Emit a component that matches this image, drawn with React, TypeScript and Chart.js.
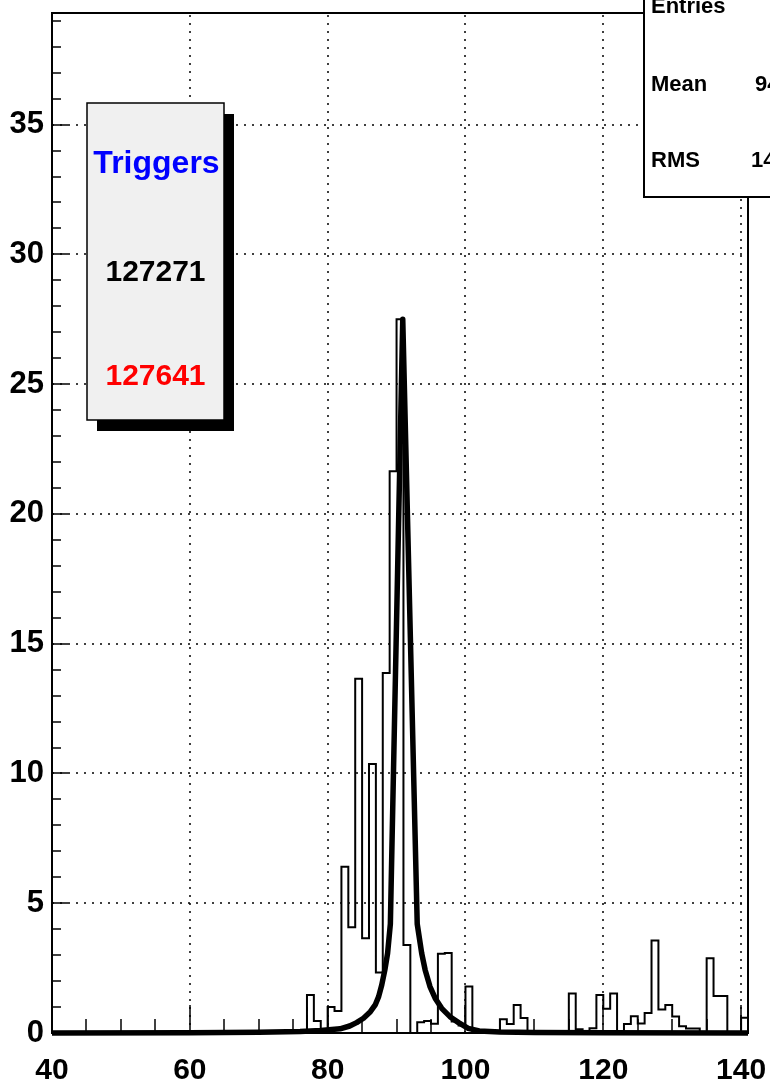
import React, { useEffect, useRef } from "react";
import { Chart, registerables } from "chart.js";

Chart.register(...registerables);

// Histogram: bins of width 1 starting at 40 (40..141)
const binStart = 40;
const binWidth = 1;
const counts = [
  0, 0, 0, 0, 0, 0, 0, 0, 0, 0, // 40-49
  0, 0, 0, 0, 0, 0, 0, 0, 0, 0, // 50-59
  0, 0, 0, 0, 0, 0, 0, 0, 0, 0, // 60-69
  0, 0, 0, 0, 0, 0, 0, 1.46, 0.46, 0, // 70-79
  1.0, 0.85, 6.41, 4.07, 13.65, 3.65, 10.36, 2.33, 13.87, 21.64, // 80-89
  27.5, 3.39, 0, 0.41, 0.46, 0.36, 3.05, 3.08, 0.44, 0.29, // 90-99
  1.79, 0, 0, 0, 0, 0.53, 0.35, 1.08, 0.58, 0, // 100-109
  0, 0, 0, 0, 0, 1.52, 0.14, 0, 0.18, 1.46, // 110-119
  0.93, 1.52, 0, 0.35, 0.65, 0.37, 0.77, 3.56, 0.91, 1.08, // 120-129
  0.64, 0.26, 0.17, 0.17, 0, 2.88, 1.43, 1.43, 0, 0, // 130-139
  0.59, // 140
];

// Fit curve, vertices
const fitX = [
  40, 60, 70, 76, 79, 81.8, 83.2, 84.2, 85.2, 86.2, 86.9, 87.4, 87.85, 88.3, 88.7, 89.1,
  90.9,
  93.0, 93.65, 94.15, 94.85, 95.6, 96.55, 97.75, 99.0, 100.4, 102, 105, 110, 120, 141,
];
const fitY = [
  0, 0.01, 0.03, 0.06, 0.1, 0.16, 0.27, 0.4, 0.57, 0.82, 1.08, 1.4, 1.85, 2.43, 3.07, 4.2,
  27.5,
  4.2, 3.07, 2.43, 1.79, 1.34, 0.95, 0.63, 0.4, 0.18, 0.08, 0.04, 0.02, 0.01, 0,
];

const xTickValues = [40, 60, 80, 100, 120, 140];
const yTickValues = [0, 5, 10, 15, 20, 25, 30, 35];

const triggerTitle = "Triggers";
const triggerValues = ["127271", "127641"];
const triggerColors = ["#000000", "#ff0000"];
const statsLabels = ["Entries", "Mean", "RMS"];
const statsValues = ["", "94", "14"];

const FONT = "'Liberation Sans', Arial, Helvetica, sans-serif";

const zeroPadding = (s: any) => {
  s.paddingLeft = 0;
  s.paddingRight = 0;
  s.paddingTop = 0;
  s.paddingBottom = 0;
};

export default function App() {
  const ref = useRef<HTMLCanvasElement>(null);

  useEffect(() => {
    const canvas = ref.current!;
    const histPoints = counts.map((c, i) => ({ x: binStart + i * binWidth, y: c }));
    histPoints.push({
      x: binStart + counts.length * binWidth,
      y: counts[counts.length - 1],
    });
    const fitPoints = fitX.map((x, i) => ({ x, y: fitY[i] }));

    const rootPlugin = {
      id: "rootFrame",
      beforeDatasetsDraw(chart: any) {
        const { ctx, chartArea: a, scales } = chart;
        const sx = scales.x;
        const sy = scales.y;
        ctx.save();
        ctx.strokeStyle = "#000";
        ctx.lineWidth = 1.5;
        ctx.setLineDash([2, 6]);
        xTickValues.forEach((v) => {
          if (v <= sx.min) return;
          const px = Math.round(sx.getPixelForValue(v));
          ctx.beginPath();
          ctx.moveTo(px, a.bottom);
          ctx.lineTo(px, a.top);
          ctx.stroke();
        });
        yTickValues.forEach((v) => {
          if (v <= sy.min) return;
          const py = Math.round(sy.getPixelForValue(v));
          ctx.beginPath();
          ctx.moveTo(a.left, py);
          ctx.lineTo(a.right, py);
          ctx.stroke();
        });
        ctx.restore();
      },
      afterDatasetsDraw(chart: any) {
        const { ctx, chartArea: a, scales } = chart;
        const sx = scales.x;
        const sy = scales.y;
        ctx.save();
        ctx.setLineDash([]);
        ctx.strokeStyle = "#000";
        // ticks
        ctx.lineWidth = 1.5;
        for (let v = 40; v <= sx.max; v += 5) {
          const px = Math.round(sx.getPixelForValue(v));
          const len = (v - 40) % 20 === 0 ? 28 : 14;
          ctx.beginPath();
          ctx.moveTo(px, a.bottom);
          ctx.lineTo(px, a.bottom - len);
          ctx.stroke();
        }
        for (let v = 0; v <= sy.max; v += 1) {
          const py = Math.round(sy.getPixelForValue(v));
          const len = v % 5 === 0 ? 16 : 9;
          ctx.beginPath();
          ctx.moveTo(a.left, py);
          ctx.lineTo(a.left + len, py);
          ctx.stroke();
        }
        // frame
        ctx.lineWidth = 2;
        ctx.strokeRect(a.left, a.top, a.right - a.left, a.bottom - a.top);

        // Triggers pave
        const bx = 87, by = 103, bw = 137, bh = 317;
        ctx.fillStyle = "#000";
        ctx.fillRect(bx + 10, by + 11, bw, bh);
        ctx.fillStyle = "#f0f0f0";
        ctx.fillRect(bx, by, bw, bh);
        ctx.lineWidth = 1.5;
        ctx.strokeRect(bx, by, bw, bh);
        ctx.textAlign = "center";
        ctx.textBaseline = "middle";
        ctx.font = `bold 32px ${FONT}`;
        ctx.fillStyle = "#0000ff";
        ctx.fillText(triggerTitle, bx + bw / 2 + 1, 164);
        ctx.font = `bold 30px ${FONT}`;
        triggerValues.forEach((t, i) => {
          ctx.fillStyle = triggerColors[i];
          ctx.fillText(t, bx + bw / 2, 273 + i * 104);
        });

        // Stats pave (top right, partly outside the canvas)
        ctx.fillStyle = "#ffffff";
        ctx.fillRect(644, -40, 200, 237);
        ctx.lineWidth = 2;
        ctx.strokeRect(644, -40, 200, 237);
        ctx.fillStyle = "#000";
        ctx.font = `bold 22px ${FONT}`;
        ctx.textAlign = "left";
        ctx.textBaseline = "alphabetic";
        const baselines = [13, 90.5, 167];
        const valueX = [760, 755, 751];
        statsLabels.forEach((t, i) => {
          ctx.fillText(t, 651, baselines[i]);
          if (statsValues[i]) ctx.fillText(statsValues[i], valueX[i], baselines[i]);
        });
        ctx.restore();
      },
    };

    const chart = new Chart(canvas, {
      type: "line",
      data: {
        datasets: [
          {
            data: fitPoints,
            borderColor: "#000",
            borderWidth: 5.5,
            pointRadius: 0,
            tension: 0,
            fill: false,
            clip: 6,
            borderJoinStyle: "round",
            borderCapStyle: "butt",
            order: 1,
          },
          {
            data: histPoints,
            borderColor: "#000",
            borderWidth: 2,
            stepped: true,
            pointRadius: 0,
            tension: 0,
            fill: false,
            order: 2,
          },
        ],
      } as any,
      options: {
        animation: false,
        responsive: false,
        devicePixelRatio: 1,
        events: [],
        layout: { autoPadding: false, padding: { left: 0, right: 22, top: 13, bottom: 0 } },
        plugins: {
          legend: { display: false },
          tooltip: { enabled: false },
          title: { display: false },
        },
        scales: {
          x: {
            type: "linear",
            min: 40,
            max: 141,
            grid: { display: false },
            border: { display: false },
            afterBuildTicks: (s: any) => {
              s.ticks = xTickValues.map((v) => ({ value: v }));
            },
            afterFit: (s: any) => {
              s.height = 51;
              zeroPadding(s);
            },
            ticks: {
              autoSkip: false,
              maxRotation: 0,
              minRotation: 0,
              padding: 12,
              color: "#000",
              font: { family: FONT, size: 30, weight: "bold" },
              callback: (v: any) => String(v),
            },
          },
          y: {
            type: "linear",
            min: 0,
            max: 39.3,
            grid: { display: false },
            border: { display: false },
            afterBuildTicks: (s: any) => {
              s.ticks = yTickValues.map((v) => ({ value: v }));
            },
            afterFit: (s: any) => {
              s.width = 52;
              zeroPadding(s);
            },
            ticks: {
              autoSkip: false,
              padding: 0,
              color: "#000",
              font: { family: FONT, size: 31, weight: "bold" },
              callback: (v: any) => String(v),
            },
          },
        },
      } as any,
      plugins: [rootPlugin],
    });
    return () => chart.destroy();
  }, []);

  return (
    <div style={{ position: "absolute", left: 0, top: 0, width: 770, height: 1084 }}>
      <canvas ref={ref} width={770} height={1084} style={{ width: 770, height: 1084, display: "block" }} />
    </div>
  );
}
